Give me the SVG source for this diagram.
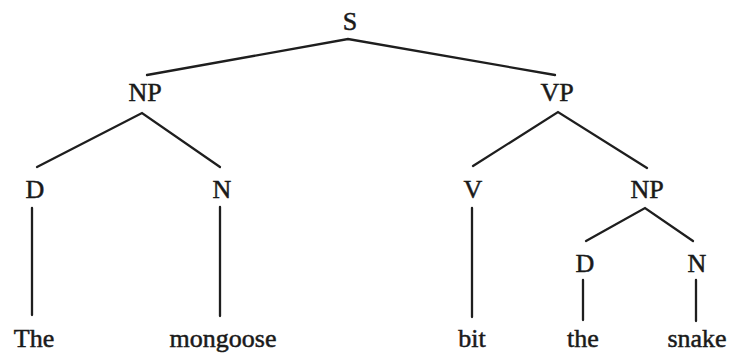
<svg xmlns="http://www.w3.org/2000/svg" width="730" height="358" viewBox="0 0 730 358">
<style>
text{font-family:"Liberation Serif","Times New Roman",serif;font-size:26px;fill:#1a1a1a;stroke:#1a1a1a;stroke-width:0.5;text-anchor:middle}
.e{stroke:#1e1e1e;stroke-width:2.3;fill:none;stroke-linecap:round}
</style>
<rect width="730" height="358" fill="#fff"/>
<g id="connectors">
<path class="e" d="M147 75 L348 39 L555 75"/>
<path class="e" d="M37 167 L142 113 L220 167"/>
<path class="e" d="M473 166 L558 112 L647 168"/>
<path class="e" d="M586 241 L645 208 L693 241"/>
<line class="e" x1="32" y1="208" x2="32" y2="315"/>
<line class="e" x1="220" y1="207" x2="220" y2="316"/>
<line class="e" x1="472" y1="208" x2="472" y2="317"/>
<line class="e" x1="583" y1="280" x2="583" y2="320"/>
<line class="e" x1="696" y1="280" x2="696" y2="321"/>
</g>
<g id="S"><text x="350" y="30">S</text></g>
<g id="NP1"><text x="145" y="101">NP</text></g>
<g id="VP"><text x="557" y="101">VP</text></g>
<g id="D1"><text x="35" y="198">D</text></g>
<g id="N1"><text x="222" y="198">N</text></g>
<g id="V"><text x="473" y="198">V</text></g>
<g id="NP2"><text x="647" y="198">NP</text></g>
<g id="D2"><text x="585" y="272">D</text></g>
<g id="N2"><text x="697" y="272">N</text></g>
<g id="w1"><text x="34" y="347">The</text></g>
<g id="w2"><text x="223" y="347">mongoose</text></g>
<g id="w3"><text x="472" y="347">bit</text></g>
<g id="w4"><text x="583" y="347">the</text></g>
<g id="w5"><text x="697" y="347">snake</text></g>
</svg>
